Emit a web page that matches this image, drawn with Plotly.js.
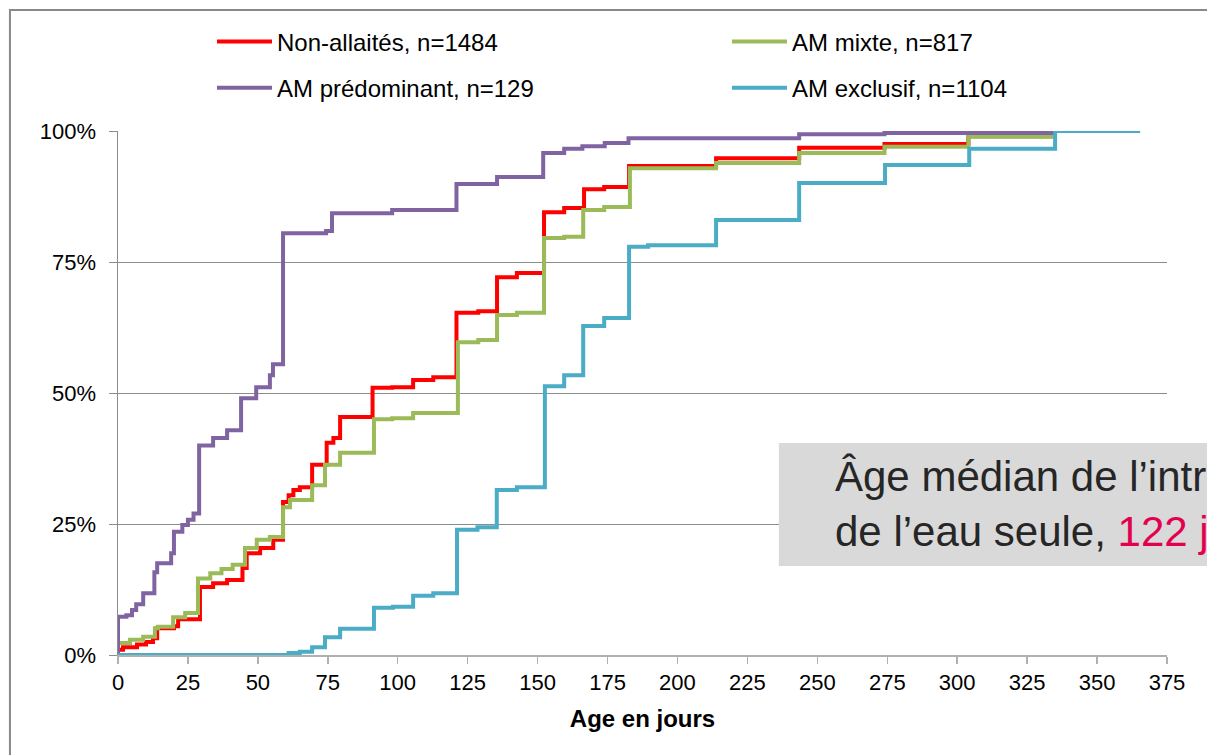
<!DOCTYPE html>
<html>
<head>
<meta charset="utf-8">
<script src="https://cdn.plot.ly/plotly-3.0.1.min.js"></script>
<style>
html,body{margin:0;padding:0;background:#fff;}
#chart{width:1207px;height:755px;}
</style>
</head>
<body>
<div id="chart"></div>
<script>
// Series names
const seriesNames = ["Non-allaités, n=1484", "AM mixte, n=817", "AM prédominant, n=129", "AM exclusif, n=1104"];

// Non-allaités (red): step days and cumulative %
const redDays = [0, 1.8, 6.8, 10, 12.5, 14, 20, 21.5, 29.3, 34, 39, 44.5, 46, 50.8, 55.5, 59, 61, 62.7, 65, 69.4, 74.6, 77, 79.4, 91, 98, 105.5, 112.7, 121, 128.8, 135.5, 142.6, 152.3, 159.5, 166.6, 173.8, 182.7, 213.8, 243.5, 274, 304, 334];
const redPct  = [1.0, 1.5, 2.0, 2.5, 3.2, 5.1, 5.5, 6.8, 13, 13.7, 14.3, 16.6, 19.4, 20.4, 22, 29.2, 30.5, 31.5, 32, 36.3, 40.5, 41.4, 45.4, 51, 51.1, 52.5, 53, 65.3, 65.6, 72.1, 72.9, 84.5, 85.3, 88.9, 89.3, 93.3, 94.8, 96.8, 97.5, 99, 100];

// AM mixte (green)
const greenDays = [0, 4.3, 9, 13.2, 14.3, 19.7, 24, 28.6, 33, 37, 41, 45.4, 49.6, 54.3, 59, 61.5, 69.4, 74, 79.4, 91.5, 98, 105.5, 121.5, 128.8, 135.5, 142.6, 152.3, 159.5, 166.3, 173.8, 183, 213.8, 243.5, 274, 304, 334];
const greenPct  = [2.3, 2.9, 3.5, 5.1, 5.4, 7.2, 8.0, 14.6, 15.6, 16.4, 17.2, 20.4, 22, 22.5, 28.2, 29.6, 32.4, 36.3, 38.6, 45, 45.2, 46.2, 59.7, 60.1, 64.9, 65.3, 79.6, 79.8, 84.9, 85.5, 92.9, 93.9, 95.8, 97, 98.9, 100];

// AM prédominant (purple)
const purpleDays = [0, 0, 3, 5, 6.5, 9, 13, 14, 19, 20, 23, 25, 27, 29, 34, 39, 44, 49.4, 54.3, 55.4, 59, 74.4, 76.5, 98, 121, 135.5, 152, 159.5, 166, 174, 182.5, 243.5, 274, 334];
const purplePct  = [0, 7.3, 7.6, 8.6, 9.7, 11.8, 15.8, 17.5, 19.4, 23.5, 24.8, 25.8, 27, 40, 41.4, 42.9, 49, 51.1, 53.4, 55.5, 80.5, 80.9, 84.3, 84.9, 89.9, 91.2, 95.8, 96.6, 97.1, 97.7, 98.6, 99.4, 99.6, 100];

// AM exclusif (blue)
const blueDays = [0, 61, 65, 69.4, 74, 79.4, 91.5, 98.3, 105.5, 112.7, 121.2, 128.5, 135.4, 142.6, 152.6, 159.5, 166.3, 173.8, 182.7, 189.5, 213.8, 243.5, 274.2, 304.3, 335, 365.4];
const bluePct  = [0, 0.4, 0.6, 1.5, 3.4, 5, 9, 9.2, 11.3, 11.8, 23.9, 24.4, 31.5, 32, 51.3, 53.4, 62.8, 64.3, 77.9, 78.2, 83, 90.1, 93.5, 96.6, 100, 100];

// Axis ticks
const xTicks = [0, 25, 50, 75, 100, 125, 150, 175, 200, 225, 250, 275, 300, 325, 350, 375];
const yTicks = [0, 25, 50, 75, 100];
const yTickLabels = ["0%", "25%", "50%", "75%", "100%"];

const colors = ["#FF0000", "#9BBB59", "#8064A2", "#4BACC6"];
const FONT = "Liberation Sans, Arial, sans-serif";

function stepTrace(x, y, i, legendId) {
  return {
    x: x, y: y, name: seriesNames[i], type: "scatter", mode: "lines",
    line: {shape: "hv", color: colors[i], width: 4},
    cliponaxis: false, legend: legendId, hoverinfo: "skip"
  };
}

const data = [
  stepTrace(redDays, redPct, 0, "legend"),
  stepTrace(greenDays, greenPct, 1, "legend"),
  stepTrace(purpleDays, purplePct, 2, "legend2"),
  stepTrace(blueDays, bluePct, 3, "legend2")
];

const legendCommon = {
  orientation: "h", xanchor: "left", yanchor: "middle",
  entrywidth: 445, entrywidthmode: "pixels", itemwidth: 55,
  font: {family: FONT, size: 24, color: "#000"},
  bgcolor: "rgba(0,0,0,0)", borderwidth: 0, traceorder: "normal"
};

const layout = {
  width: 1207, height: 755,
  margin: {l: 118, r: 40, t: 131, b: 100, autoexpand: false},
  paper_bgcolor: "#fff", plot_bgcolor: "#fff",
  font: {family: FONT, size: 22, color: "#000"},
  showlegend: true,
  legend: Object.assign({}, legendCommon, {x: 0.0896, y: 1.1698}),
  legend2: Object.assign({}, legendCommon, {x: 0.0896, y: 1.082}),
  xaxis: {
    range: [0, 375], tickvals: xTicks, ticktext: xTicks.map(String),
    showgrid: false, zeroline: false,
    showline: true, linecolor: "#b0b0b0", linewidth: 2,
    ticks: "outside", ticklen: 7, tickcolor: "#b0b0b0", tickwidth: 1.5,
    tickfont: {family: FONT, size: 22, color: "#000"},
    title: {text: "<b>Age en jours</b>", font: {family: FONT, size: 24, color: "#000"}, standoff: 16},
    fixedrange: true
  },
  yaxis: {
    range: [0, 100], tickvals: yTicks, ticktext: yTickLabels,
    showgrid: true, gridcolor: "#8c8c8c", gridwidth: 1,
    zeroline: false,
    showline: true, linecolor: "#8c8c8c", linewidth: 1.5,
    ticks: "outside", ticklen: 8, tickcolor: "#8c8c8c", tickwidth: 1,
    ticklabelstandoff: 8,
    tickfont: {family: FONT, size: 22, color: "#000"},
    fixedrange: true
  },
  shapes: [
    // outer frame
    {type: "rect", xref: "paper", yref: "paper", x0: -0.103, x1: 1.06, y0: -0.22, y1: 1.231,
     line: {color: "#898989", width: 2}, fillcolor: "rgba(0,0,0,0)", layer: "below"},
    // annotation box
    {type: "rect", xref: "paper", yref: "paper", x0: 0.630, x1: 1.06, y0: 0.1698, y1: 0.4046,
     line: {width: 0}, fillcolor: "#D9D9D9", layer: "above"}
  ],
  annotations: [
    {xref: "paper", yref: "paper", x: 0.6816, y: 0.288, xanchor: "left", yanchor: "middle",
     align: "left", showarrow: false,
     text: "Âge médian de l’introduction<br>de l’eau seule, <span style=\"color:#E2004F\">122 jours</span>",
     font: {family: FONT, size: 42, color: "#262626"}}
  ]
};

Plotly.newPlot("chart", data, layout, {staticPlot: true, displayModeBar: false});
</script>
</body>
</html>
